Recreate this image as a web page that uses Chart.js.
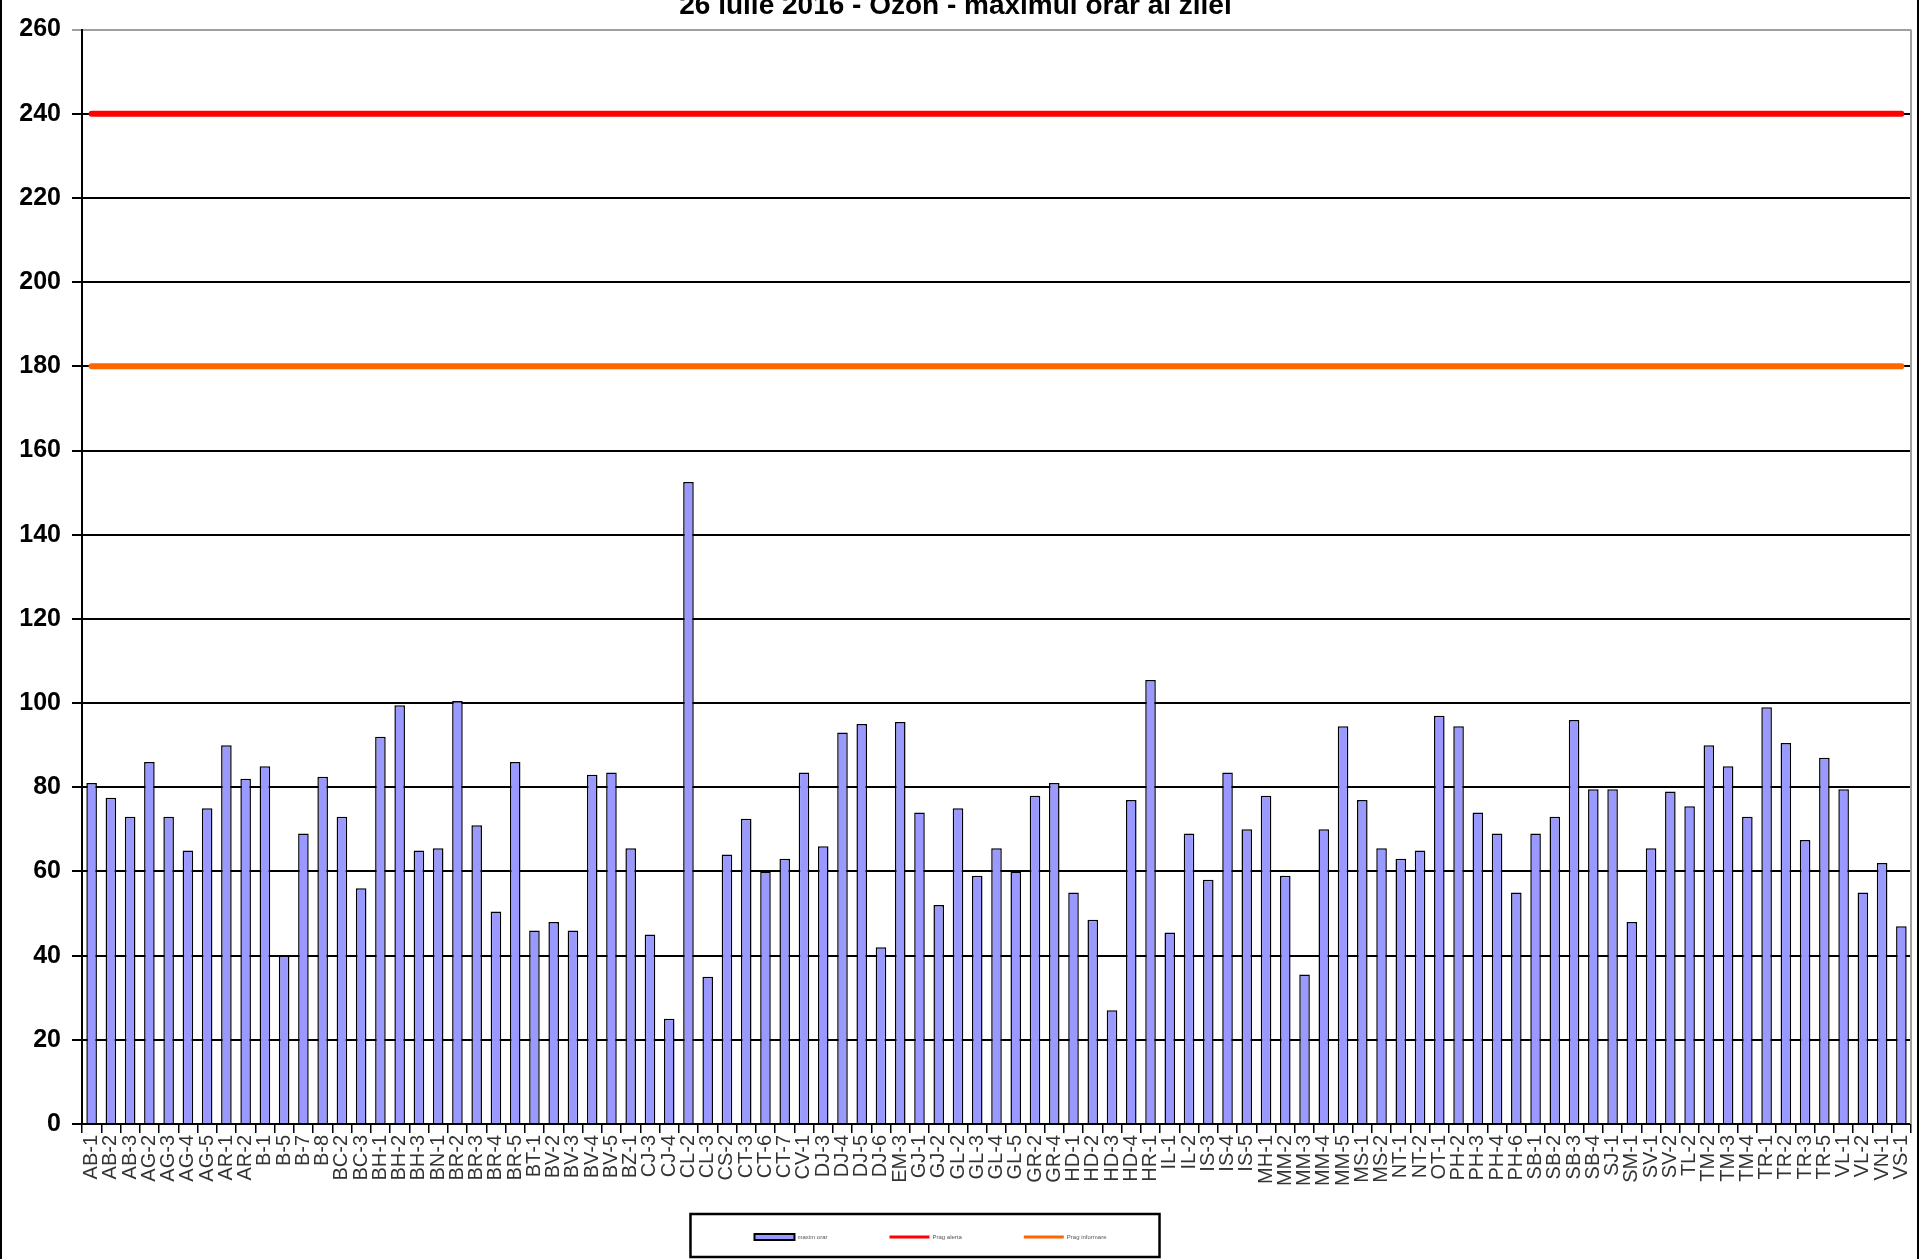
<!DOCTYPE html>
<html>
<head>
<meta charset="utf-8">
<script src="https://cdn.jsdelivr.net/npm/chart.js@4/dist/chart.umd.min.js"></script>
<style>
  body { margin: 0; background: #fff; }
  #page { position: relative; width: 1923px; height: 1259px; overflow: hidden; background: #fff; }
  #frame { position: absolute; left: 0; top: -10px; width: 1915px; height: 1300px; border: 2px solid #000; }
  #holder { position: absolute; left: 0; top: -20px; width: 1923px; height: 1279px; }
</style>
</head>
<body>
<div id="page">
  <div id="frame"></div>
  <div id="holder"><canvas id="ozon"></canvas></div>
</div>
<script>
// statii de monitorizare
let statii = [
  "AB-1", "AB-2", "AB-3", "AG-2", "AG-3", "AG-4", "AG-5", "AR-1", "AR-2", "B-1",
  "B-5", "B-7", "B-8", "BC-2", "BC-3", "BH-1", "BH-2", "BH-3", "BN-1", "BR-2",
  "BR-3", "BR-4", "BR-5", "BT-1", "BV-2", "BV-3", "BV-4", "BV-5", "BZ-1", "CJ-3",
  "CJ-4", "CL-2", "CL-3", "CS-2", "CT-3", "CT-6", "CT-7", "CV-1", "DJ-3", "DJ-4",
  "DJ-5", "DJ-6", "EM-3", "GJ-1", "GJ-2", "GL-2", "GL-3", "GL-4", "GL-5", "GR-2",
  "GR-4", "HD-1", "HD-2", "HD-3", "HD-4", "HR-1", "IL-1", "IL-2", "IS-3", "IS-4",
  "IS-5", "MH-1", "MM-2", "MM-3", "MM-4", "MM-5", "MS-1", "MS-2", "NT-1", "NT-2",
  "OT-1", "PH-2", "PH-3", "PH-4", "PH-6", "SB-1", "SB-2", "SB-3", "SB-4", "SJ-1",
  "SM-1", "SV-1", "SV-2", "TL-2", "TM-2", "TM-3", "TM-4", "TR-1", "TR-2", "TR-3",
  "TR-5", "VL-1", "VL-2", "VN-1", "VS-1"
];

// maximul orar (ug/m3)
let maximOrar = [
  81, 77.5, 73, 86, 73, 65, 75, 90, 82, 85,
  40, 69, 82.5, 73, 56, 92, 99.5, 65, 65.5, 100.5,
  71, 50.5, 86, 46, 48, 46, 83, 83.5, 65.5, 45,
  25, 152.5, 35, 64, 72.5, 60, 63, 83.5, 66, 93,
  95, 42, 95.5, 74, 52, 75, 59, 65.5, 60, 78,
  81, 55, 48.5, 27, 77, 105.5, 45.5, 69, 58, 83.5,
  70, 78, 59, 35.5, 70, 94.5, 77, 65.5, 63, 65,
  97, 94.5, 74, 69, 55, 69, 73, 96, 79.5, 79.5,
  48, 65.5, 79, 75.5, 90, 85, 73, 99, 90.5, 67.5,
  87, 79.5, 55, 62, 47
];

let pragAlerta = 240;
let pragInformare = 180;

let titlu = "26 iulie 2016 - Ozon - maximul orar al zilei";
let etichete = ["maxim orar", "Prag alerta", "Prag informare"];

/**
 * Moves the legend left a bit, lets the x labels run down
 * and draws the boxes that Excel had
 */
let decor = {
  id: "decor",
  afterLayout: function(chart) {
    chart.legend.left -= 25;
    chart.legend.right -= 25;
    chart.scales.x.bottom += 40;
  },
  beforeDatasetsDraw: function(chart) {
    let ctx = chart.ctx;
    let area = chart.chartArea;
    ctx.save();
    ctx.strokeStyle = "#a0a0a0";
    ctx.lineWidth = 2;
    ctx.beginPath();
    ctx.moveTo(area.right, area.top);
    ctx.lineTo(area.right, area.bottom);
    ctx.stroke();
    ctx.restore();
  },
  afterDraw: function(chart) {
    let boxes = chart.legend.legendHitBoxes;
    if(!boxes || !boxes.length) return;
    let first = boxes[0];
    let last = boxes[boxes.length - 1];
    let mid = first.top + first.height / 2;
    let ctx = chart.ctx;
    ctx.save();
    ctx.strokeStyle = "#000";
    ctx.lineWidth = 2.5;
    ctx.strokeRect(first.left - 64, mid - 23, last.left + last.width + 53 - (first.left - 64), 43);
    ctx.restore();
  }
};

new Chart("ozon", {
  type: "bar",
  data: {
    labels: statii,
    datasets: [{
      label: etichete[0],
      data: maximOrar,
      backgroundColor: "#9999ff",
      borderColor: "#000",
      borderWidth: 1.5,
      barPercentage: 0.55,
      categoryPercentage: 1
    },
    {
      type: "line",
      label: etichete[1],
      data: statii.map(function() { return pragAlerta; }),
      borderColor: "#ff0000",
      backgroundColor: "#ff0000",
      borderWidth: 6,
      borderCapStyle: "round",
      pointRadius: 0
    },
    {
      type: "line",
      label: etichete[2],
      data: statii.map(function() { return pragInformare; }),
      borderColor: "#ff6600",
      backgroundColor: "#ff6600",
      borderWidth: 6,
      borderCapStyle: "round",
      pointRadius: 0
    }]
  },
  options: {
    responsive: true,
    maintainAspectRatio: false,
    animation: false,
    layout: {
      padding: { left: 0, right: 12, top: 0, bottom: 9 }
    },
    plugins: {
      title: {
        display: true,
        text: titlu,
        color: "#000",
        font: { family: "Liberation Sans", size: 28, weight: "bold" },
        padding: { top: 9, bottom: 7 }
      },
      legend: {
        position: "bottom",
        labels: {
          usePointStyle: true,
          pointStyleWidth: 40,
          boxHeight: 6,
          padding: 62,
          color: "#555",
          font: { family: "Liberation Sans", size: 6 },
          generateLabels: function(chart) {
            let items = Chart.defaults.plugins.legend.labels.generateLabels(chart);
            items.forEach(function(item) {
              let first = (item.datasetIndex == 0);
              item.pointStyle = first ? "rect" : "line";
              item.lineWidth = first ? 2 : 3;
            });
            return items;
          }
        }
      },
      tooltip: { enabled: false }
    },
    scales: {
      x: {
        offset: true,
        afterFit: function(scale) {
          scale.height = 48;
          scale.paddingLeft = 0;
          scale.paddingRight = 0;
        },
        grid: {
          offset: true,
          drawOnChartArea: false,
          color: "#000",
          lineWidth: 1.5,
          tickLength: 9
        },
        border: { color: "#000", width: 2 },
        ticks: {
          autoSkip: false,
          minRotation: 90,
          maxRotation: 90,
          padding: 2,
          color: "#333",
          font: { family: "Liberation Sans", size: 20 }
        }
      },
      y: {
        min: 0,
        max: 260,
        afterFit: function(scale) { scale.width = 82; },
        grid: {
          color: function(ctx) {
            return (ctx.tick && ctx.tick.value == 260) ? "#a0a0a0" : "#000";
          },
          lineWidth: 2,
          tickLength: 10
        },
        border: { color: "#000", width: 2 },
        ticks: {
          stepSize: 20,
          padding: 11,
          color: "#000",
          font: { family: "Liberation Sans", size: 25, weight: "bold" }
        }
      }
    }
  },
  plugins: [decor]
});
</script>
</body>
</html>
